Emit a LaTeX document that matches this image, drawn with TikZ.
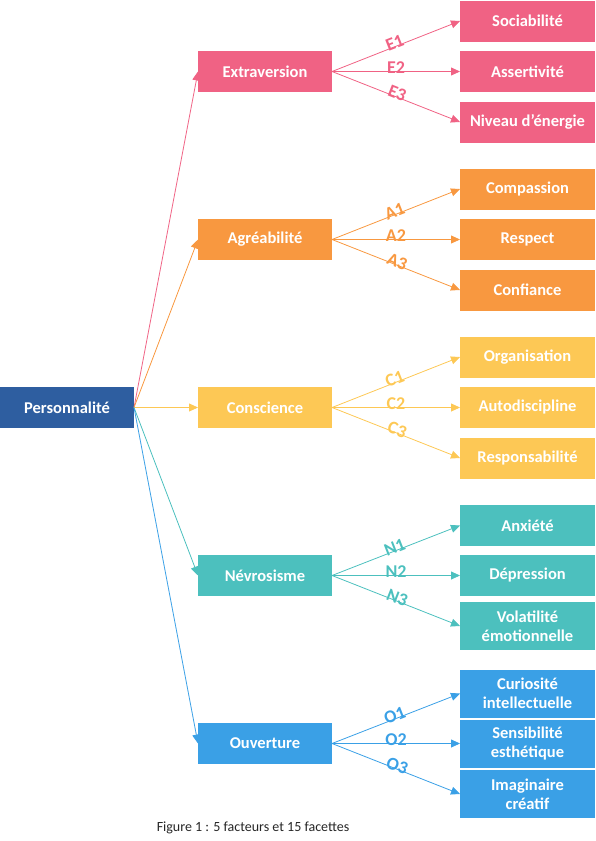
\documentclass[tikz,border=0pt]{standalone}
\usepackage{fontspec}
\setmainfont{Carlito}
\usepackage{tikz}
\usetikzlibrary{positioning,arrows.meta}
\definecolor{rootblue}{RGB}{46,94,160}
\definecolor{pastelpink}{RGB}{240,98,132}
\definecolor{pastelorange}{RGB}{248,152,64}
\definecolor{pastelyellow}{RGB}{253,200,85}
\definecolor{pastelteal}{RGB}{76,192,190}
\definecolor{pastelblue}{RGB}{58,160,230}
\tikzstyle{element} = [rectangle, text centered, align=center, text=white, inner sep=0pt, outer sep=0pt,
  minimum width=134pt, minimum height=41pt, font=\fontsize{16.5}{19.3}\selectfont\bfseries]
\tikzstyle{facet} = [element, minimum width=135pt]
\tikzstyle{twoline} = [minimum height=48pt]
\tikzstyle{arrow} = [line width=0.8pt, -{Triangle[length=9pt,width=8pt]}]
\tikzstyle{facetlabel} = [midway, sloped, inner sep=0pt, yshift=3.5pt, font=\fontsize{18}{20}\selectfont\bfseries]

\begin{document}
\begin{tikzpicture}
    \useasboundingbox (0,0) rectangle (595pt,-841pt);
    % Root -------------------------------------------------------------------------------------
    \node[element, fill=rootblue, at={(67pt,-407.5pt)}](perso){Personnalité};
    % Factors ----------------------------------------------------------------------------------
    \node[element, right=64pt of perso, fill=pastelyellow](consc){Conscience};
    \node[element, above=127pt of consc, fill=pastelorange](agre){Agréabilité};
    \node[element, above=127pt of agre, fill=pastelpink](extra){Extraversion};
    \node[element, below=127pt of consc, fill=pastelteal](nevro){Névrosisme};
    \node[element, below=127pt of nevro, fill=pastelblue](ouver){Ouverture};
    % Facets -----------------------------------------------------------------------------------
    \node[facet, right=128pt of extra, fill=pastelpink](assert){Assertivité};
    \node[facet, above=9.5pt of assert, fill=pastelpink](socia){Sociabilité};
    \node[facet, below=9.5pt of assert, fill=pastelpink](energie){Niveau d’énergie};
    \node[facet, right=128pt of agre, fill=pastelorange](respect){Respect};
    \node[facet, above=9.5pt of respect, fill=pastelorange](compas){Compassion};
    \node[facet, below=9.5pt of respect, fill=pastelorange](confiance){Confiance};
    \node[facet, right=128pt of consc, fill=pastelyellow](autodisc){Autodiscipline};
    \node[facet, above=9.5pt of autodisc, fill=pastelyellow](organ){Organisation};
    \node[facet, below=9.5pt of autodisc, fill=pastelyellow](respons){Responsabilité};
    \node[facet, right=128pt of nevro, fill=pastelteal](depres){Dépression};
    \node[facet, above=9pt of depres, fill=pastelteal](anxiete){Anxiété};
    \node[facet, twoline, below=6pt of depres, fill=pastelteal](volat){Volatilité\\émotionnelle};
    \node[facet, twoline, right=128pt of ouver, fill=pastelblue](sensib){Sensibilité\\esthétique};
    \node[facet, twoline, above=2pt of sensib, fill=pastelblue](curio){Curiosité\\intellectuelle};
    \node[facet, twoline, below=2.5pt of sensib, fill=pastelblue](imagin){Imaginaire\\créatif};
    % Caption ----------------------------------------------------------------------------------
    \node[font=\fontsize{14}{16}\selectfont, text=black!85, at={(253pt,-828pt)}](caption){Figure 1 : 5 facteurs et 15 facettes};
    % Arrows root ------------------------------------------------------------------------------
    \draw[arrow, pastelpink] (perso.east) -- (extra.west);
    \draw[arrow, pastelorange] (perso.east) -- (agre.west);
    \draw[arrow, pastelyellow] (perso.east) -- (consc.west);
    \draw[arrow, pastelteal] (perso.east) -- (nevro.west);
    \draw[arrow, pastelblue] (perso.east) -- (ouver.west);
    % Arrows facets ----------------------------------------------------------------------------
    \draw[arrow, pastelpink] (extra.east) -- node[facetlabel]{E1} (socia.west);
    \draw[arrow, pastelpink] (extra.east) -- node[facetlabel]{E2} (assert.west);
    \draw[arrow, pastelpink] (extra.east) -- node[facetlabel]{E3} (energie.west);
    \draw[arrow, pastelorange] (agre.east) -- node[facetlabel]{A1} (compas.west);
    \draw[arrow, pastelorange] (agre.east) -- node[facetlabel]{A2} (respect.west);
    \draw[arrow, pastelorange] (agre.east) -- node[facetlabel]{A3} (confiance.west);
    \draw[arrow, pastelyellow] (consc.east) -- node[facetlabel]{C1} (organ.west);
    \draw[arrow, pastelyellow] (consc.east) -- node[facetlabel]{C2} (autodisc.west);
    \draw[arrow, pastelyellow] (consc.east) -- node[facetlabel]{C3} (respons.west);
    \draw[arrow, pastelteal] (nevro.east) -- node[facetlabel]{N1} (anxiete.west);
    \draw[arrow, pastelteal] (nevro.east) -- node[facetlabel]{N2} (depres.west);
    \draw[arrow, pastelteal] (nevro.east) -- node[facetlabel]{N3} (volat.west);
    \draw[arrow, pastelblue] (ouver.east) -- node[facetlabel]{O1} (curio.west);
    \draw[arrow, pastelblue] (ouver.east) -- node[facetlabel]{O2} (sensib.west);
    \draw[arrow, pastelblue] (ouver.east) -- node[facetlabel]{O3} (imagin.west);
\end{tikzpicture}
\end{document}
